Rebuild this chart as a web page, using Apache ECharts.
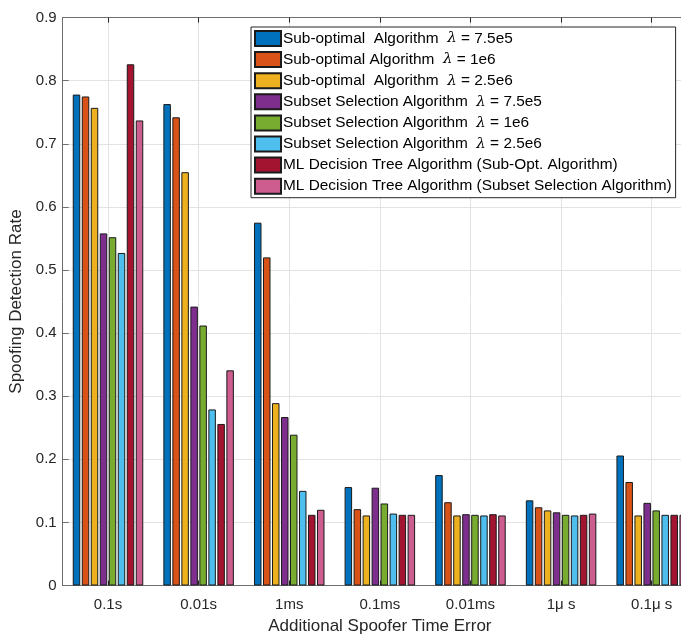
<!DOCTYPE html>
<html>
<head>
<meta charset="utf-8">
<script src="https://cdn.jsdelivr.net/npm/echarts@6/dist/echarts.min.js"></script>
<style>
  html, body { margin: 0; padding: 0; background: #fff; overflow: hidden; }
  #chart { width: 681px; height: 635px; }
</style>
</head>
<body>
<div id="chart"></div>
<script>
// Detection rate per timing-error level, one array per algorithm setting
const categories = ['0.1s', '0.01s', '1ms', '0.1ms', '0.01ms', '1μ s', '0.1μ s'];

const subOpt75e5  = [0.778, 0.763, 0.575, 0.156, 0.175, 0.135, 0.206];
const subOpt1e6   = [0.775, 0.742, 0.520, 0.121, 0.132, 0.124, 0.164];
const subOpt25e6  = [0.757, 0.655, 0.289, 0.111, 0.111, 0.119, 0.111];
const subset75e5  = [0.558, 0.442, 0.267, 0.155, 0.113, 0.116, 0.131];
const subset1e6   = [0.552, 0.412, 0.239, 0.130, 0.112, 0.112, 0.119];
const subset25e6  = [0.527, 0.279, 0.150, 0.114, 0.111, 0.111, 0.112];
const treeSubOpt  = [0.826, 0.256, 0.112, 0.112, 0.113, 0.112, 0.112];
const treeSubset  = [0.737, 0.341, 0.120, 0.112, 0.111, 0.114, 0.112];

const yTicks = { min: 0, max: 0.9, interval: 0.1 };

const seriesDefs = [
  { name: 'Sub-optimal  Algorithm  {l|λ} = 7.5e5', data: subOpt75e5, color: '#0072BD' },
  { name: 'Sub-optimal Algorithm  {l|λ} = 1e6', data: subOpt1e6, color: '#D95319' },
  { name: 'Sub-optimal  Algorithm  {l|λ} = 2.5e6', data: subOpt25e6, color: '#EDB120' },
  { name: 'Subset Selection Algorithm  {l|λ} = 7.5e5', data: subset75e5, color: '#7E2F8E' },
  { name: 'Subset Selection Algorithm  {l|λ} = 1e6', data: subset1e6, color: '#77AC30' },
  { name: 'Subset Selection Algorithm  {l|λ} = 2.5e6', data: subset25e6, color: '#4DBEEE' },
  { name: 'ML Decision Tree Algorithm (Sub-Opt. Algorithm)', data: treeSubOpt, color: '#A2142F' },
  { name: 'ML Decision Tree Algorithm (Subset Selection Algorithm)', data: treeSubset, color: '#CD5C8F' }
];

const FONT = '"Liberation Sans", Arial, Helvetica, sans-serif';
const AXIS_COLOR = '#6e6e6e';
const TEXT_COLOR = '#262626';

const chart = echarts.init(document.getElementById('chart'), null, { renderer: 'canvas' });

chart.setOption({
  animation: false,
  backgroundColor: '#ffffff',
  textStyle: { fontFamily: FONT },
  // the plot box runs past the right edge of the canvas (its last band is cut off)
  grid: { left: 62.7, right: -16, top: 17.6, bottom: 49.5, containLabel: false, outerBoundsMode: 'none' },
  legend: {
    orient: 'vertical',
    left: 251,
    top: 27,
    itemWidth: 26,
    itemHeight: 15,
    itemGap: 4.1,
    padding: [3, 4, 3, 3],
    backgroundColor: '#ffffff',
    borderColor: '#262626',
    borderWidth: 1,
    icon: 'rect',
    textStyle: {
      fontFamily: FONT,
      fontSize: 15.4,
      lineHeight: 15,
      color: '#000',
      padding: [0, 0, 0, -3],
      rich: {
        l: { fontFamily: '"DejaVu Serif", serif', fontStyle: 'italic', fontSize: 15, lineHeight: 15, color: '#000' }
      }
    },
    data: seriesDefs.map(s => s.name)
  },
  xAxis: [
    {
      type: 'category',
      data: categories,
      position: 'bottom',
      boundaryGap: true,
      axisLine: { show: true, lineStyle: { color: AXIS_COLOR, width: 1 } },
      axisTick: { show: true, inside: true, alignWithLabel: true, length: 5, lineStyle: { color: '#262626' } },
      axisLabel: { color: TEXT_COLOR, fontSize: 15, fontFamily: FONT, margin: 12 },
      splitLine: { show: true, alignWithLabel: true, lineStyle: { color: '#e3e3e3', width: 1 } },
      name: 'Additional Spoofer Time Error',
      nameLocation: 'middle',
      nameGap: 32,
      nameTextStyle: { color: TEXT_COLOR, fontSize: 17, fontFamily: FONT }
    },
    {
      type: 'category',
      data: categories,
      position: 'top',
      boundaryGap: true,
      axisLine: { show: true, lineStyle: { color: AXIS_COLOR, width: 1 } },
      axisTick: { show: true, inside: true, alignWithLabel: true, length: 5, lineStyle: { color: '#262626' } },
      axisLabel: { show: false },
      splitLine: { show: false }
    }
  ],
  yAxis: {
    type: 'value',
    min: yTicks.min,
    max: yTicks.max,
    interval: yTicks.interval,
    axisLine: { show: true, lineStyle: { color: AXIS_COLOR, width: 1 } },
    axisTick: { show: true, inside: true, length: 6, lineStyle: { color: AXIS_COLOR } },
    axisLabel: { color: TEXT_COLOR, fontSize: 15, fontFamily: FONT, margin: 6 },
    splitLine: { show: true, lineStyle: { color: '#e3e3e3', width: 1 } },
    name: 'Spoofing Detection Rate',
    nameLocation: 'middle',
    nameGap: 27,
    nameTextStyle: { color: TEXT_COLOR, fontSize: 17, fontFamily: FONT }
  },
  series: seriesDefs.map(s => ({
    name: s.name,
    type: 'bar',
    xAxisIndex: 0,
    data: s.data,
    barWidth: 7.5,
    barGap: '20%',
    itemStyle: { color: s.color, borderColor: '#1a1a1a', borderWidth: 1 }
  }))
});
</script>
</body>
</html>
